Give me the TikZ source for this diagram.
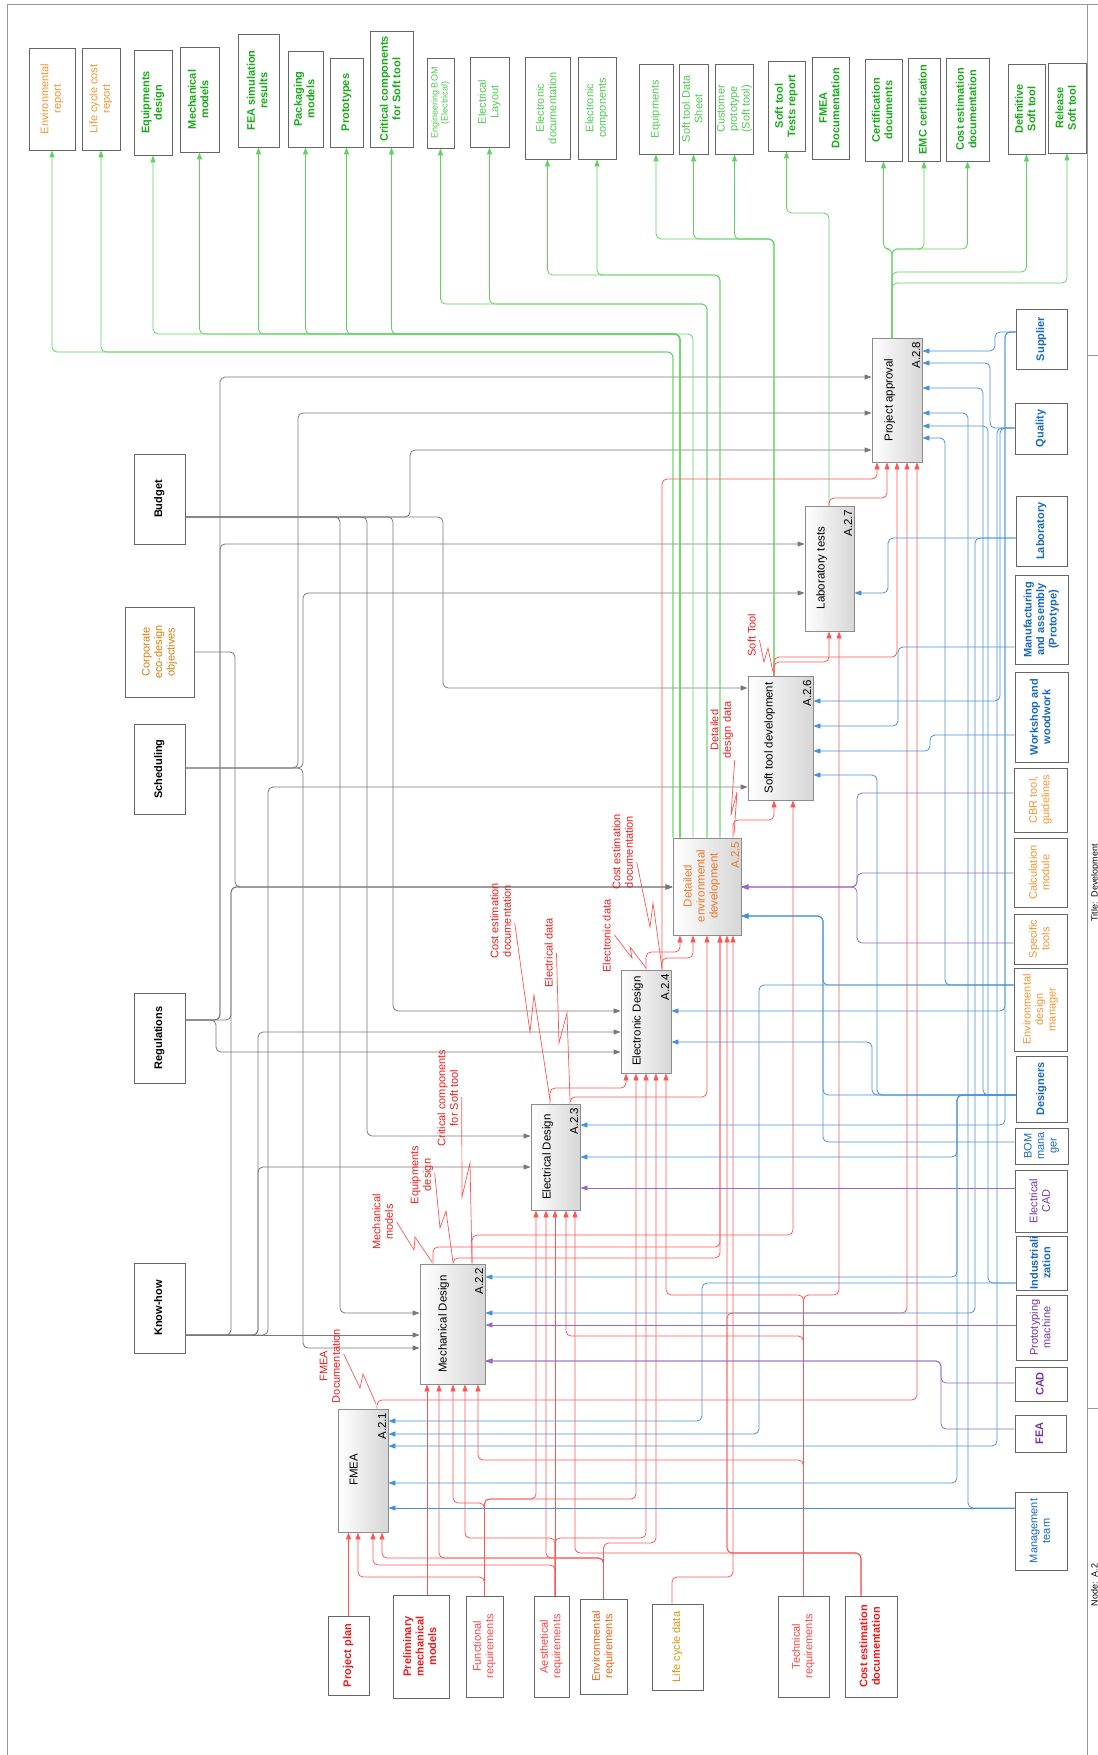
\documentclass[tikz,border=0pt]{standalone}
\usepackage{fontspec}
\setmainfont{Liberation Sans}
\usetikzlibrary{arrows.meta}

\definecolor{ctlline}{RGB}{120,120,120}
\definecolor{redline}{RGB}{255,85,85}
\definecolor{mechline}{RGB}{70,145,215}
\definecolor{toolline}{RGB}{150,105,195}
\definecolor{outgreen}{RGB}{95,210,95}
\definecolor{redtxt}{RGB}{232,30,30}
\definecolor{lredtxt}{RGB}{245,70,70}
\definecolor{gtxt}{RGB}{25,170,25}
\definecolor{lgtxt}{RGB}{80,200,80}
\definecolor{otxt}{RGB}{242,150,50}
\definecolor{dotxt}{RGB}{215,125,10}
\definecolor{ertxt}{RGB}{220,100,20}
\definecolor{lctxt}{RGB}{215,150,20}
\definecolor{btxt}{RGB}{25,105,185}
\definecolor{ptxt}{RGB}{115,55,165}
\definecolor{acttxt}{RGB}{240,120,40}

\newcommand{\vtxt}[1]{\rotatebox{90}{\begin{tabular}{@{}c@{}}#1\end{tabular}}}

\tikzset{
  nt/.style={font=\fontsize{11}{12.5}\selectfont},
  bt/.style={font=\fontsize{11}{12.5}\selectfont\bfseries},
  box/.style={draw=black!60, line width=0.8pt, inner sep=0pt, fill=white, nt},
  act/.style={draw=black!45, line width=0.8pt, inner sep=0pt, left color=white, right color=black!16},
  acttext/.style={inner sep=0pt, font=\fontsize{11.5}{13}\selectfont},
  num/.style={inner sep=0pt, anchor=north east, font=\fontsize{11.5}{13}\selectfont},
  lbl/.style={inner sep=0pt, text=redtxt, nt},
  ctl/.style={draw=ctlline, line width=0.8pt, rounded corners=5pt, -{Triangle[length=7pt,width=5pt]}},
  inp/.style={draw=redline, line width=0.8pt, rounded corners=5pt, -{Triangle[length=7pt,width=5pt]}},
  mech/.style={draw=mechline, line width=0.8pt, rounded corners=5pt, -{Triangle[length=7pt,width=5pt]}},
  tool/.style={draw=toolline, line width=0.8pt, rounded corners=5pt, -{Triangle[length=7pt,width=5pt]}},
  outl/.style={draw=outgreen, line width=0.8pt, rounded corners=5pt, -{Triangle[length=7pt,width=5pt]}},
  sq/.style={draw=redline, line width=0.7pt}
}

\begin{document}
\begin{tikzpicture}[x=1pt, y=-1pt]
\useasboundingbox (0,0) rectangle (1097,1755);

% frame and title block
\draw[black!40, line width=1pt] (7,5) rectangle (1120,1775);
\draw[black!40, line width=1pt] (1087,5) -- (1087,1775);
\draw[black!40, line width=1pt] (1087,355) -- (1120,355);
\draw[black!40, line width=1pt] (1087,1408) -- (1120,1408);
\node[anchor=west, inner sep=0pt, font=\fontsize{9}{10}\selectfont] (title) at (1091,883) {\rotatebox{90}{Title:\ \ Development}};
\node[anchor=west, inner sep=0pt, font=\fontsize{9}{10}\selectfont] (nodeno) at (1091,1585) {\rotatebox{90}{Node:\ \ A.2}};

% outputs
\node[box, minimum width=46, minimum height=102, text=otxt] (envrep) at (52,99) {\vtxt{Environmental\\report}};
\node[box, minimum width=38, minimum height=102, text=otxt] (lccrep) at (101,99) {\vtxt{Life cycle cost\\report}};
\node[box, bt, minimum width=38, minimum height=105, text=gtxt] (eqdes) at (153,102.5) {\vtxt{Equipments\\design}};
\node[box, bt, minimum width=39, minimum height=105, text=gtxt] (mechmod) at (199.5,99.5) {\vtxt{Mechanical\\models}};
\node[box, bt, minimum width=41, minimum height=113, text=gtxt] (fearesult) at (258.5,90.5) {\vtxt{FEA simulation\\results}};
\node[box, bt, minimum width=35, minimum height=96, text=gtxt] (packmod) at (305.5,99) {\vtxt{Packaging\\models}};
\node[box, bt, minimum width=33, minimum height=89, text=gtxt] (protos) at (346.5,102.5) {\vtxt{Prototypes}};
\node[box, bt, minimum width=43, minimum height=116, text=gtxt] (critcomp) at (391.5,89) {\vtxt{Critical components\\for Soft tool}};
\node[box, minimum width=27, minimum height=90, text=lgtxt, font=\fontsize{9}{10}\selectfont] (engbom) at (440.5,103) {\vtxt{Engineering BOM\\(Electrical)}};
\node[box, minimum width=39, minimum height=90, text=lgtxt] (elayout) at (489.5,102) {\vtxt{Electrical\\Layout}};
\node[box, minimum width=45, minimum height=102, text=lgtxt] (edoc) at (547.5,108) {\vtxt{Electronic\\documentation}};
\node[box, minimum width=38, minimum height=102, text=lgtxt] (ecomp) at (597,108) {\vtxt{Electronic\\components}};
\node[box, minimum width=34, minimum height=90, text=lgtxt] (equip) at (656,109) {\vtxt{Equipments}};
\node[box, minimum width=29, minimum height=90, text=lgtxt] (stds) at (693.5,109) {\vtxt{Soft tool Data\\Sheet}};
\node[box, minimum width=37, minimum height=90, text=lgtxt] (custproto) at (734.5,109) {\vtxt{Customer\\prototype\\(Soft tool)}};
\node[box, bt, minimum width=37, minimum height=90, text=gtxt] (sttests) at (786.5,106) {\vtxt{Soft tool\\Tests report}};
\node[box, bt, minimum width=37, minimum height=102, text=gtxt] (fmeadoc) at (830.5,108) {\vtxt{FMEA\\Documentation}};
\node[box, bt, minimum width=37, minimum height=102, text=gtxt] (certdoc) at (883.5,110) {\vtxt{Certification\\documents}};
\node[box, bt, minimum width=32, minimum height=103, text=gtxt] (emc) at (924,109.5) {\vtxt{EMC certification}};
\node[box, bt, minimum width=43, minimum height=103, text=gtxt] (costout) at (967.5,109.5) {\vtxt{Cost estimation\\documentation}};
\node[box, bt, minimum width=37, minimum height=90, text=gtxt] (defst) at (1026.5,109) {\vtxt{Definitive\\Soft tool}};
\node[box, bt, minimum width=38, minimum height=90, text=gtxt] (relst) at (1067,108) {\vtxt{Release\\Soft tool}};

% controls
\node[box, bt, minimum width=51, minimum height=90] (budget) at (159.5,499) {\vtxt{Budget}};
\node[box, minimum width=69, minimum height=90, text=dotxt] (corpobj) at (159.5,652) {\vtxt{Corporate\\eco-design\\objectives}};
\node[box, bt, minimum width=51, minimum height=90] (sched) at (159.5,769) {\vtxt{Scheduling}};
\node[box, bt, minimum width=51, minimum height=90] (regul) at (159.5,1038) {\vtxt{Regulations}};
\node[box, bt, minimum width=51, minimum height=90] (knowhow) at (159.5,1308) {\vtxt{Know-how}};

% inputs
\node[box, bt, minimum width=41, minimum height=79, text=redtxt] (pplan) at (348.5,1655.5) {\vtxt{Project plan}};
\node[box, bt, minimum width=56, minimum height=103, text=redtxt] (prelim) at (421,1646.5) {\vtxt{Preliminary\\mechanical\\models}};
\node[box, minimum width=37, minimum height=101, text=lredtxt] (funcreq) at (484.5,1646.5) {\vtxt{Functional\\requirements}};
\node[box, minimum width=35, minimum height=101, text=lredtxt] (aestreq) at (551.5,1646.5) {\vtxt{Aesthetical\\requirements}};
\node[box, minimum width=47, minimum height=95, text=ertxt] (envreq) at (603.5,1646.5) {\vtxt{Environmental\\requirements}};
\node[box, minimum width=51, minimum height=86, text=lctxt] (lcdata) at (677.5,1647) {\vtxt{Life cycle data}};
\node[box, minimum width=51, minimum height=101, text=lredtxt] (techreq) at (803.5,1646.5) {\vtxt{Technical\\requirements}};
\node[box, bt, minimum width=52, minimum height=101, text=redtxt] (costin) at (871,1646.5) {\vtxt{Cost estimation\\documentation}};

% mechanisms
\node[box, bt, minimum width=51, minimum height=60, text=btxt] (supplier) at (1041.5,339) {\vtxt{Supplier}};
\node[box, bt, minimum width=52, minimum height=51, text=btxt] (quality) at (1041,428.5) {\vtxt{Quality}};
\node[box, bt, minimum width=51, minimum height=70, text=btxt] (lab) at (1041.5,531) {\vtxt{Laboratory}};
\node[box, bt, minimum width=53, minimum height=89, text=btxt] (manuf) at (1041.5,619.5) {\vtxt{Manufacturing\\and assembly\\(Prototype)}};
\node[box, bt, minimum width=53, minimum height=90, text=btxt] (workshop) at (1041.5,717) {\vtxt{Workshop and\\woodwork}};
\node[box, minimum width=53, minimum height=64, text=otxt] (cbr) at (1040.5,800) {\vtxt{CBR tool,\\guidelines}};
\node[box, minimum width=53, minimum height=69, text=otxt] (calcmod) at (1040.5,872.5) {\vtxt{Calculation\\module}};
\node[box, minimum width=53, minimum height=50, text=otxt] (spectools) at (1040.5,939) {\vtxt{Specific\\tools}};
\node[box, minimum width=53, minimum height=83, text=otxt] (envmgr) at (1040.5,1009.5) {\vtxt{Environmental\\design\\manager}};
\node[box, bt, minimum width=51, minimum height=66, text=btxt] (designers) at (1041.5,1089) {\vtxt{Designers}};
\node[box, minimum width=53, minimum height=36, text=btxt] (bommgr) at (1041.5,1146) {\vtxt{BOM\\mana\\ger}};
\node[box, minimum width=52, minimum height=62, text=ptxt] (ecad) at (1041,1201) {\vtxt{Electrical\\CAD}};
\node[box, bt, minimum width=51, minimum height=54, text=btxt] (indus) at (1041.5,1263) {\vtxt{Industriali\\zation}};
\node[box, minimum width=51, minimum height=65, text=ptxt] (protomach) at (1041.5,1327.5) {\vtxt{Prototyping\\machine}};
\node[box, bt, minimum width=52, minimum height=34, text=ptxt] (cad) at (1041,1384) {\vtxt{CAD}};
\node[box, bt, minimum width=51, minimum height=37, text=ptxt] (fea) at (1040.5,1433.5) {\vtxt{FEA}};
\node[box, minimum width=52, minimum height=78, text=btxt] (mgmt) at (1041,1531) {\vtxt{Management\\team}};

% activities
\node[act, minimum width=50, minimum height=123] (a21) at (363,1470.5) {};
\node[act, minimum width=65, minimum height=120] (a22) at (452.5,1324) {};
\node[act, minimum width=49, minimum height=106] (a23) at (555.5,1157) {};
\node[act, minimum width=50, minimum height=103] (a24) at (646,1021.5) {};
\node[act, minimum width=68, minimum height=97] (a25) at (707,886.5) {};
\node[act, minimum width=65, minimum height=124] (a26) at (780.5,738) {};
\node[act, minimum width=49, minimum height=125] (a27) at (829.5,568.5) {};
\node[act, minimum width=50, minimum height=124] (a28) at (897,400) {};

\node[acttext] (a21t) at (355,1470) {\vtxt{FMEA}};
\node[acttext] (a22t) at (444,1324) {\vtxt{Mechanical Design}};
\node[acttext] (a23t) at (548,1157) {\vtxt{Electrical Design}};
\node[acttext] (a24t) at (638,1021) {\vtxt{Electronic Design}};
\node[acttext, text=acttxt] (a25t) at (702,886) {\vtxt{Detailed\\environmental\\development}};
\node[acttext] (a26t) at (770,738) {\vtxt{Soft tool development}};
\node[acttext] (a27t) at (822,568) {\vtxt{Laboratory tests}};
\node[acttext] (a28t) at (890,400) {\vtxt{Project approval}};

\node[num] (a21n) at ([shift={(-2,4)}]a21.north east) {\rotatebox{90}{A.2.1}};
\node[num] (a22n) at ([shift={(-2,4)}]a22.north east) {\rotatebox{90}{A.2.2}};
\node[num] (a23n) at ([shift={(-2,4)}]a23.north east) {\rotatebox{90}{A.2.3}};
\node[num] (a24n) at ([shift={(-2,4)}]a24.north east) {\rotatebox{90}{A.2.4}};
\node[num, text=acttxt] (a25n) at ([shift={(-2,4)}]a25.north east) {\rotatebox{90}{A.2.5}};
\node[num] (a26n) at ([shift={(-2,4)}]a26.north east) {\rotatebox{90}{A.2.6}};
\node[num] (a27n) at ([shift={(-2,4)}]a27.north east) {\rotatebox{90}{A.2.7}};
\node[num] (a28n) at ([shift={(-2,4)}]a28.north east) {\rotatebox{90}{A.2.8}};

% controls
\draw[ctl] (budget.east |- 0,517) -| (410,450) -- (a28.west |- 0,450);
\draw[ctl] (budget.east |- 0,517) -| (443,688) -- (a26.west |- 0,688);
\draw[ctl] (budget.east |- 0,517) -| (393,1011) -- (a24.west |- 0,1011);
\draw[ctl] (budget.east |- 0,517) -| (367,1136) -- (a23.west |- 0,1136);
\draw[ctl] (budget.east |- 0,517) -| (340,1313) -- (a22.west |- 0,1313);
\draw[ctl] (corpobj.east |- 0,652) -| (235,887) -- (a25.west |- 0,887);
\draw[ctl] (sched.east |- 0,768) -| (298,413) -- (a28.west |- 0,413);
\draw[ctl] (sched.east |- 0,768) -| (303,593) -- (a27.west |- 0,593);
\draw[ctl] (sched.east |- 0,768) -| (303,1348) -- (a22.west |- 0,1348);
\draw[ctl] (regul.east |- 0,1020) -| (220,377) -- (a28.west |- 0,377);
\draw[ctl] (regul.east |- 0,1020) -| (220,544) -- (a27.west |- 0,544);
\draw[ctl] (regul.east |- 0,1020) -| (231,887) -- (a25.west |- 0,887);
\draw[ctl] (regul.east |- 0,1020) -| (216,1052) -- (a24.west |- 0,1052);
\draw[ctl] (knowhow.east |- 0,1335) -- (a22.west |- 0,1335);
\draw[ctl] (knowhow.east |- 0,1335) -| (231,887) -- (a25.west |- 0,887);
\draw[ctl] (knowhow.east |- 0,1335) -| (258,1167) -- (a23.west |- 0,1167);
\draw[ctl] (knowhow.east |- 0,1335) -| (258,1032) -- (a24.west |- 0,1032);
\draw[ctl] (knowhow.east |- 0,1335) -| (268,787) -- (a26.west |- 0,787);

% outputs
\draw[outl] (a25.north -| 673,0) |- (envrep.south |- 0,352) -- (envrep.south);
\draw[outl] (a25.north -| 673,0) |- (lccrep.south |- 0,352) -- (lccrep.south);
\draw[outl] (a25.north -| 680,0) |- (eqdes.south |- 0,334) -- (eqdes.south);
\draw[outl] (a25.north -| 680,0) |- (mechmod.south |- 0,334) -- (mechmod.south);
\draw[outl] (a25.north -| 680,0) |- (fearesult.south |- 0,334) -- (fearesult.south);
\draw[outl] (a25.north -| 680,0) |- (packmod.south |- 0,334) -- (packmod.south);
\draw[outl] (a25.north -| 680,0) |- (protos.south |- 0,334) -- (protos.south);
\draw[outl] (a25.north -| 693,0) |- (critcomp.south |- 0,334) -- (critcomp.south);
\draw[outl] (a25.north -| 707,0) |- (engbom.south |- 0,304) -- (engbom.south);
\draw[outl] (a25.north -| 707,0) |- (elayout.south |- 0,304) -- (elayout.south);
\draw[outl] (a25.north -| 720,0) |- (edoc.south |- 0,275) -- (edoc.south);
\draw[outl] (a25.north -| 720,0) |- (ecomp.south |- 0,275) -- (ecomp.south);
\draw[outl] (a26.north -| 774,0) |- (equip.south |- 0,239) -- (equip.south);
\draw[outl] (a26.north -| 774,0) |- (stds.south |- 0,239) -- (stds.south);
\draw[outl] (a26.north -| 774,0) |- (custproto.south |- 0,239) -- (custproto.south);
\draw[outl] (a27.north -| 829,0) |- (sttests.south |- 0,213) -- (sttests.south);
\draw[outl] (a28.north -| 892,0) |- (certdoc.south |- 0,249) -- (certdoc.south);
\draw[outl] (a28.north -| 892,0) |- (emc.south |- 0,249) -- (emc.south);
\draw[outl] (a28.north -| 892,0) |- (costout.south |- 0,249) -- (costout.south);
\draw[outl] (a28.north -| 892,0) |- (defst.south |- 0,272) -- (defst.south);
\draw[outl] (a28.north -| 892,0) |- (relst.south |- 0,283) -- (relst.south);

% inputs
\draw[inp] (pplan.north) -- (a21.south -| pplan.north);
\draw[inp] (prelim.north -| 427,0) -- (a22.south -| 427,0);
\draw[inp] (funcreq.north) |- (358,1577) -- (a21.south -| 358,0);
\draw[inp] (funcreq.north) |- (453,1503) -- (a22.south -| 453,0);
\draw[inp] (funcreq.north) |- (536,1499) -- (a23.south -| 536,0);
\draw[inp] (funcreq.north) |- (636,1499) -- (a24.south -| 636,0);
\draw[inp] (aestreq.north -| 555,0) |- (373,1565) -- (a21.south -| 373,0);
\draw[inp] (aestreq.north -| 555,0) |- (465,1538) -- (a22.south -| 465,0);
\draw[inp] (aestreq.north -| 555,0) -- (a23.south -| 555,0);
\draw[inp] (aestreq.north -| 555,0) |- (646,1538) -- (a24.south -| 646,0);
\draw[inp] (envreq.north) |- (382,1558) -- (a21.south -| 382,0);
\draw[inp] (envreq.north) |- (439,1558) -- (a22.south -| 439,0);
\draw[inp] (envreq.north) |- (546,1558) -- (a23.south -| 546,0);
\draw[inp] (envreq.north) |- (656,1543) -- (a24.south -| 656,0);
\draw[inp] (lcdata.north -| 672,0) |- (733,1577) -- (a25.south -| 733,0);
\draw[inp] (techreq.north) |- (478,1460) -- (a22.south -| 478,0);
\draw[inp] (techreq.north) |- (566,1336) -- (a23.south -| 566,0);
\draw[inp] (techreq.north) |- (666,1295) -- (a24.south -| 666,0);
\draw[inp] (techreq.north) |- (839,1295) -- (a27.south -| 839,0);
\draw[inp] (costin.north -| 861,0) |- (575,1553) -- (a23.south -| 575,0);
\draw[inp] (costin.north -| 861,0) |- (727,1553) -- (a25.south -| 727,0);
\draw[inp] (costin.north -| 861,0) |- (727,1553) |- (907,1313) -- (a28.south -| 907,0);

% activity outputs
\draw[inp] (a21.north -| 377,0) |- (917,1400) -- (a28.south -| 917,0);
\draw[inp] (a22.north -| 433,0) |- (720,1247) -- (a25.south -| 720,0);
\draw[inp] (a22.north -| 453,0) |- (720,1258) -- (a25.south -| 720,0);
\draw[inp] (a22.north -| 472,0) |- (793,1235) -- (a26.south -| 793,0);
\draw[inp] (a23.north -| 550,0) |- (626,1088) -- (a24.south -| 626,0);
\draw[inp] (a23.north -| 570,0) |- (707,1097) -- (a25.south -| 707,0);
\draw[inp] (a24.north -| 646,0) |- (680,952) -- (a25.south -| 680,0);
\draw[inp] (a24.north -| 662,0) |- (693,958) -- (a25.south -| 693,0);
\draw[inp] (a24.north -| 662,0) |- (877,479) -- (a28.south -| 877,0);
\draw[inp] (a25.north -| 733,0) |- (774,820) -- (a26.south -| 774,0);
\draw[inp] (a26.north -| 774,0) |- (829,662) -- (a27.south -| 829,0);
\draw[inp] (a26.north -| 774,0) |- (897,657) -- (a28.south -| 897,0);
\draw[inp] (a27.north -| 829,0) |- (887,498) -- (a28.south -| 887,0);

% mechanisms
\draw[mech] (supplier.west |- 0,332) -| (995,351) -- (a28.east |- 0,351);
\draw[mech] (supplier.west |- 0,332) -| (1005,1011) -- (a24.east |- 0,1011);
\draw[mech] (supplier.west |- 0,332) -| (1005,1125) -- (a23.east |- 0,1125);
\draw[mech] (quality.west |- 0,428) -| (990,363) -- (a28.east |- 0,363);
\draw[mech] (quality.west |- 0,428) -| (1000,701) -- (a26.east |- 0,701);
\draw[mech] (quality.west |- 0,428) -| (997,1446) -- (a21.east |- 0,1446);
\draw[mech] (lab.west |- 0,538) -| (888,593) -- (a27.east |- 0,593);
\draw[mech] (lab.west |- 0,538) -| (975,1313) -- (a22.east |- 0,1313);
\draw[mech] (manuf.west |- 0,647) -| (898,726) -- (a26.east |- 0,726);
\draw[mech] (workshop.west |- 0,735) -| (930,751) -- (a26.east |- 0,751);
\draw[mech] (envmgr.west |- 0,985) -| (945,438) -- (a28.east |- 0,438);
\draw[mech] (envmgr.west |- 0,985) -| (823,916) -- (a25.east |- 0,916);
\draw[mech] (envmgr.west |- 0,985) -| (759,1434) -- (a21.east |- 0,1434);
\draw[mech] (designers.west |- 0,1095) -| (983,388) -- (a28.east |- 0,388);
\draw[mech] (designers.west |- 0,1095) -| (877,775) -- (a26.east |- 0,775);
\draw[mech] (designers.west |- 0,1095) -| (872,1042) -- (a24.east |- 0,1042);
\draw[mech] (designers.west |- 0,1095) -| (957,1157) -- (a23.east |- 0,1157);
\draw[mech] (designers.west |- 0,1095) -| (957,1277) -- (a22.east |- 0,1277);
\draw[mech] (designers.west |- 0,1095) -| (957,1483) -- (a21.east |- 0,1483);
\draw[mech] (designers.west |- 0,1095) -| (823,916) -- (a25.east |- 0,916);
\draw[mech] (bommgr.west |- 0,1142) -| (823,916) -- (a25.east |- 0,916);
\draw[mech] (indus.west |- 0,1283) -| (988,426) -- (a28.east |- 0,426);
\draw[mech] (indus.west |- 0,1283) -| (702,1421) -- (a21.east |- 0,1421);
\draw[mech] (mgmt.west |- 0,1508) -- (a21.east |- 0,1508);
\draw[mech] (mgmt.west |- 0,1508) -| (968,413) -- (a28.east |- 0,413);

% tools
\draw[tool] (cbr.west |- 0,793) -| (857,887) -- (a25.east |- 0,887);
\draw[tool] (calcmod.west |- 0,873) -| (857,887) -- (a25.east |- 0,887);
\draw[tool] (spectools.west |- 0,943) -| (857,887) -- (a25.east |- 0,887);
\draw[tool] (ecad.west |- 0,1188) -- (a23.east |- 0,1188);
\draw[tool] (protomach.west |- 0,1325) -- (a22.east |- 0,1325);
\draw[tool] (cad.west |- 0,1383) -| (941,1361) -- (a22.east |- 0,1361);
\draw[tool] (fea.west |- 0,1429) -| (941,1361) -- (a22.east |- 0,1361);

% arrow labels
\node[lbl] (lfmea) at (331,1366) {\vtxt{FMEA\\Documentation}};
\node[lbl] (lmech) at (384,1222) {\vtxt{Mechanical\\models}};
\node[lbl] (lequip) at (422,1175) {\vtxt{Equipments\\design}};
\node[lbl] (lcrit) at (449,1098) {\vtxt{Critical components\\for Soft tool}};
\node[lbl] (lcost1) at (502,921) {\vtxt{Cost estimation\\documentation}};
\node[lbl] (lelec) at (550,953) {\vtxt{Electrical data}};
\node[lbl] (lelon) at (608,936) {\vtxt{Electronic data}};
\node[lbl] (lcost2) at (624,852) {\vtxt{Cost estimation\\documentation}};
\node[lbl] (ldet) at (722,730) {\vtxt{Detailed\\design data}};
\node[lbl] (lsoft) at (753,635) {\vtxt{Soft Tool}};

\draw[sq] (lfmea.east |- 0,1354) -- (360,1388) -- (363,1374) -- (376,1404);
\draw[sq] (lmech.east |- 0,1222) -- (414,1250) -- (415,1237) -- (432,1262);
\draw[sq] (lequip.east |- 0,1173) -- (440,1228) -- (446,1211) -- (453,1262);
\draw[sq] (lcrit.east |- 0,1097) -- (462,1197) -- (470,1163) -- (472,1262);
\draw[sq] (lcost1.east |- 0,923) -- (530,1032) -- (534,995) -- (550,1100);
\draw[sq] (lelec.east |- 0,953) -- (559,1043) -- (567,1013) -- (570,1100);
\draw[sq] (lelon.east |- 0,935) -- (632,958) -- (630,947) -- (646,968);
\draw[sq] (lcost2.east |- 0,862) -- (650,927) -- (653,903) -- (662,968);
\draw[sq] (ldet.east |- 0,760) -- (731,815) -- (737,792) -- (734,834);
\draw[sq] (lsoft.east |- 0,640) -- (764,662) -- (768,648) -- (773,672);
\end{tikzpicture}
\end{document}
